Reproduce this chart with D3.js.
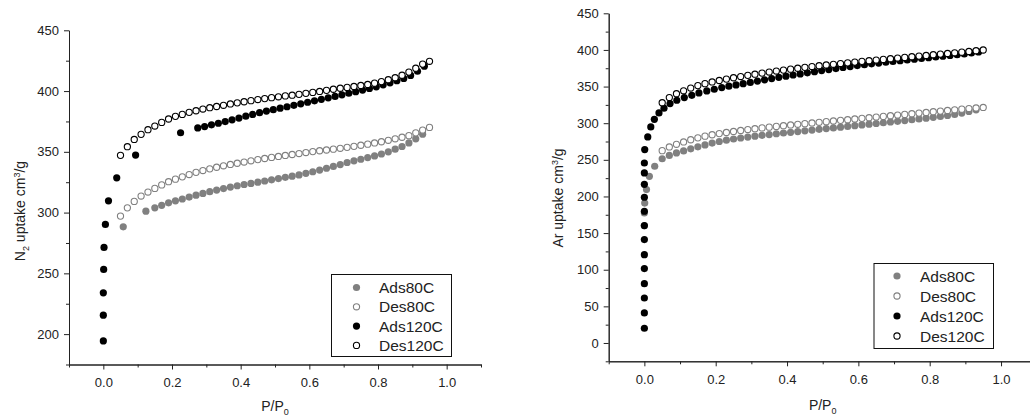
<!DOCTYPE html>
<html>
<head>
<meta charset="utf-8">
<script src="https://cdn.jsdelivr.net/npm/d3@7"></script>
<style>
  body { margin: 0; background: #fff; }
  svg { display: block; font-family: Arial, "Liberation Sans", sans-serif; }
  .tick text { font-size: 13px; fill: #222; }
  .tick line, .domain { stroke: #222; }
</style>
</head>
<body>
<div class="container"></div>
<script>
// series names, same order in both panels
const seriesNames = ["Ads80C", "Des80C", "Ads120C", "Des120C"];

// N2 isotherms (left panel), [P/P0, uptake]
const n2Ads80C = [[0.058,288.3],[0.124,301.2],[0.15,303.9],[0.17,306],[0.19,308],[0.21,309.7],[0.23,311.2],[0.25,312.8],[0.27,314.3],[0.29,315.8],[0.31,317.2],[0.33,318.5],[0.35,319.8],[0.37,321],[0.39,322.1],[0.41,323.1],[0.43,324],[0.45,325],[0.47,326],[0.49,327],[0.51,328],[0.53,329],[0.55,330],[0.57,331],[0.59,332.3],[0.61,333.6],[0.63,335],[0.65,336.5],[0.67,338],[0.69,339.5],[0.71,341.2],[0.73,342.6],[0.75,343.9],[0.77,345.3],[0.79,346.6],[0.81,348.2],[0.83,350],[0.85,352.2],[0.87,354.4],[0.89,357.3],[0.91,360.7],[0.93,364.5]];
const n2Des80C = [[0.05,297.1],[0.07,303.9],[0.09,309.2],[0.11,313.6],[0.13,316.9],[0.15,319.9],[0.17,322.8],[0.19,325.4],[0.21,327.5],[0.23,329.4],[0.25,331.3],[0.27,333.1],[0.29,334.6],[0.31,336],[0.33,337.3],[0.35,338.5],[0.37,339.6],[0.39,340.6],[0.41,341.6],[0.43,342.6],[0.45,343.6],[0.47,344.5],[0.49,345.4],[0.51,346.2],[0.53,347],[0.55,347.8],[0.57,348.6],[0.59,349.4],[0.61,350.2],[0.63,350.9],[0.65,351.5],[0.67,352.2],[0.69,352.9],[0.71,353.7],[0.73,354.5],[0.75,355.4],[0.77,356.3],[0.79,357.3],[0.81,358.3],[0.83,359.5],[0.85,360.7],[0.87,362],[0.89,363.3],[0.91,365.6],[0.93,367.9],[0.95,370.1]];
const n2Ads120C = [[0,194.4],[0,215.6],[0,234],[0.001,253.2],[0.002,271.3],[0.006,290.3],[0.015,309.7],[0.039,328.6],[0.094,347.3],[0.225,365.7],[0.275,369.7],[0.295,370.8],[0.315,372.2],[0.335,373.5],[0.355,374.9],[0.375,376.3],[0.395,377.8],[0.415,379.3],[0.435,380.8],[0.455,382.2],[0.475,383.5],[0.495,384.7],[0.515,385.9],[0.535,387.1],[0.555,388.3],[0.575,389.5],[0.595,390.8],[0.615,392],[0.635,393.2],[0.655,394.4],[0.675,395.6],[0.695,396.9],[0.715,398.2],[0.735,399.5],[0.755,400.8],[0.775,402.1],[0.795,403.5],[0.815,405.1],[0.835,406.8],[0.855,408.5],[0.875,410.4],[0.895,412.9],[0.915,416.3],[0.935,420.5]];
const n2Des120C = [[0.05,347.1],[0.07,354.2],[0.09,360.2],[0.11,364.4],[0.13,368.2],[0.15,371.2],[0.17,374.2],[0.19,377],[0.21,379.2],[0.23,380.8],[0.25,382.5],[0.27,383.8],[0.29,385.2],[0.31,386.3],[0.33,387.3],[0.35,388.3],[0.37,389.4],[0.39,390.3],[0.41,391.2],[0.43,392.1],[0.45,393],[0.47,393.8],[0.49,394.6],[0.51,395.3],[0.53,396],[0.55,396.6],[0.57,397.3],[0.59,398.1],[0.61,398.9],[0.63,399.7],[0.65,400.6],[0.67,401.5],[0.69,402.3],[0.71,403],[0.73,403.8],[0.75,404.6],[0.77,405.4],[0.79,406.5],[0.81,407.8],[0.83,409.3],[0.85,411],[0.87,413],[0.89,415.6],[0.91,418.8],[0.93,422.2],[0.95,424.5]];

// Ar isotherms (right panel), [P/P0, uptake]
const arAds80C = [[0,160],[0,177.5],[0.001,191],[0.006,209.4],[0.014,227.5],[0.029,241.2],[0.05,251.5],[0.07,256],[0.09,259.4],[0.11,262.2],[0.13,265],[0.15,267.8],[0.17,270.4],[0.19,272.8],[0.21,275],[0.23,276.8],[0.25,278.4],[0.27,279.8],[0.29,281.1],[0.31,282.3],[0.33,283.4],[0.35,284.5],[0.37,285.6],[0.39,286.6],[0.41,287.6],[0.43,288.6],[0.45,289.6],[0.47,290.6],[0.49,291.6],[0.51,292.6],[0.53,293.6],[0.55,294.6],[0.57,295.6],[0.59,296.6],[0.61,297.6],[0.63,298.6],[0.65,299.6],[0.67,300.6],[0.69,301.6],[0.71,302.6],[0.73,303.6],[0.75,304.7],[0.77,305.8],[0.79,306.9],[0.81,308],[0.83,309.2],[0.85,310.5],[0.87,312],[0.89,313.8],[0.91,316],[0.93,318.3]];
const arDes80C = [[0.05,262.5],[0.07,267.6],[0.09,271.2],[0.11,274.4],[0.13,277.4],[0.15,280],[0.17,282.3],[0.19,284.2],[0.21,285.8],[0.23,287.3],[0.25,288.7],[0.27,290],[0.29,291.3],[0.31,292.5],[0.33,293.6],[0.35,294.6],[0.37,295.6],[0.39,296.6],[0.41,297.6],[0.43,298.5],[0.45,299.4],[0.47,300.3],[0.49,301.2],[0.51,302.1],[0.53,303],[0.55,303.9],[0.57,304.8],[0.59,305.7],[0.61,306.6],[0.63,307.5],[0.65,308.4],[0.67,309.3],[0.69,310.2],[0.71,311.1],[0.73,312],[0.75,312.9],[0.77,313.8],[0.79,314.7],[0.81,315.6],[0.83,316.5],[0.85,317.4],[0.87,318.3],[0.89,319.2],[0.91,320],[0.93,320.8],[0.95,321.5]];
const arAds120C = [[0,20.1],[0,41],[0,61.4],[0,81],[0,101.5],[0,120.6],[0,141.1],[0,160.2],[0,179.8],[0,198.9],[0,216.6],[0,232.1],[0,245.7],[0.001,264],[0.0095,281.2],[0.018,294.9],[0.028,305.3],[0.041,314],[0.055,320.5],[0.072,326.8],[0.091,331.3],[0.112,335],[0.133,338.1],[0.153,341.3],[0.175,344],[0.196,346.3],[0.217,348.6],[0.237,350.5],[0.257,352.3],[0.277,354],[0.297,355.7],[0.317,357.5],[0.337,359.2],[0.357,360.9],[0.377,362.6],[0.397,364.2],[0.417,365.8],[0.437,367.3],[0.457,368.8],[0.477,370.3],[0.497,371.8],[0.517,373.2],[0.537,374.6],[0.557,376],[0.577,377.3],[0.597,378.6],[0.617,379.8],[0.637,381],[0.657,382.1],[0.677,383.2],[0.697,384.3],[0.717,385.4],[0.737,386.4],[0.757,387.4],[0.777,388.4],[0.797,389.4],[0.817,390.4],[0.837,391.4],[0.857,392.4],[0.877,393.4],[0.897,394.5],[0.917,395.8],[0.937,397.2]];
const arDes120C = [[0.05,328],[0.07,335],[0.09,340.2],[0.11,344.2],[0.13,348],[0.15,351.3],[0.17,354],[0.19,356.3],[0.21,358.3],[0.23,360.2],[0.25,362],[0.27,363.7],[0.29,365.3],[0.31,366.9],[0.33,368.4],[0.35,369.8],[0.37,371.2],[0.39,372.5],[0.41,373.8],[0.43,375],[0.45,376.2],[0.47,377.3],[0.49,378.4],[0.51,379.4],[0.53,380.4],[0.55,381.4],[0.57,382.4],[0.59,383.4],[0.61,384.4],[0.63,385.3],[0.65,386.2],[0.67,387.1],[0.69,388],[0.71,388.9],[0.73,389.8],[0.75,390.7],[0.77,391.6],[0.79,392.5],[0.81,393.4],[0.83,394.3],[0.85,395.2],[0.87,396.1],[0.89,397],[0.91,397.9],[0.93,398.9],[0.95,399.9]];

// tick values
const xMajor = [0, 0.2, 0.4, 0.6, 0.8, 1.0];
const xMinor = [-0.1, 0.1, 0.3, 0.5, 0.7, 0.9, 1.1];
const n2Major = [200, 250, 300, 350, 400, 450];
const n2Minor = [175, 225, 275, 325, 375, 425];
const arMajor = [0, 50, 100, 150, 200, 250, 300, 350, 400, 450];
const arMinor = [-25, 25, 75, 125, 175, 225, 275, 325, 375, 425];

// marker styles for each series
const styles = {
  Ads80C: { fill: "#808080", stroke: "none", r: 3.6 },
  Des80C: { fill: "#fff", stroke: "#808080", r: 3.1 },
  Ads120C: { fill: "#000", stroke: "none", r: 3.6 },
  Des120C: { fill: "#fff", stroke: "#000", r: 3.1 }
};

const W = 1030, H = 417;
const svg = d3.select(".container").append("svg")
  .attr("width", W).attr("height", H);

// draw one panel
function panel(opt) {
  const x = d3.scaleLinear().domain([-0.1, 1.1]).range(opt.xRange);
  const y = d3.scaleLinear().domain(opt.yDomain).range(opt.yRange);
  const g = svg.append("g");
  const y0 = opt.yRange[0], x0 = opt.xRange[0];

  // minor ticks first, then major with labels
  g.append("g").attr("transform", `translate(0,${y0})`)
    .call(d3.axisBottom(x).tickValues(xMinor).tickSize(3).tickSizeOuter(0).tickFormat(""));
  g.append("g").attr("transform", `translate(0,${y0})`)
    .call(d3.axisBottom(x).tickValues(xMajor).tickSize(5).tickSizeOuter(0).tickPadding(8).tickFormat(d3.format(".1f")));
  g.append("g").attr("transform", `translate(${x0},0)`)
    .call(d3.axisLeft(y).tickValues(opt.yMinor).tickSize(3).tickSizeOuter(0).tickFormat(""));
  g.append("g").attr("transform", `translate(${x0},0)`)
    .call(d3.axisLeft(y).tickValues(opt.yMajor).tickSize(5).tickSizeOuter(0).tickPadding(5).tickFormat(d3.format("d")));

  // data points
  opt.series.forEach((data, i) => {
    const s = styles[seriesNames[i]];
    g.append("g").selectAll("circle").data(data).join("circle")
      .attr("cx", d => x(d[0]))
      .attr("cy", d => y(d[1]))
      .attr("r", s.r)
      .attr("fill", s.fill)
      .attr("stroke", s.stroke)
      .attr("stroke-width", 1.1);
  });

  // x label P/P0
  const xl = g.append("text")
    .attr("x", (opt.xRange[0] + opt.xRange[1]) / 2)
    .attr("y", opt.xLabelY)
    .attr("text-anchor", "middle")
    .attr("font-size", 14).attr("fill", "#222");
  xl.append("tspan").text("P/P");
  xl.append("tspan").attr("font-size", 9).attr("dy", 4).text("0");

  // y label
  const yl = g.append("text")
    .attr("transform", `translate(${opt.yLabelX},${opt.yLabelY}) rotate(-90)`)
    .attr("text-anchor", "middle")
    .attr("font-size", 14).attr("fill", "#222");
  opt.yLabel.forEach(p => {
    yl.append("tspan").attr("font-size", p.size || 14).attr("dy", p.dy || 0).text(p.t);
  });

  // legend
  const lg = g.append("g");
  lg.append("rect")
    .attr("x", opt.legend.x).attr("y", opt.legend.y)
    .attr("width", opt.legend.w).attr("height", opt.legend.h)
    .attr("fill", "#fff").attr("stroke", "#111").attr("stroke-width", 1);
  seriesNames.forEach((name, i) => {
    const s = styles[name];
    const cy = opt.legend.y + opt.legend.first + i * opt.legend.step;
    lg.append("circle")
      .attr("cx", opt.legend.x + opt.legend.mx).attr("cy", cy)
      .attr("r", s.r).attr("fill", s.fill).attr("stroke", s.stroke).attr("stroke-width", 1.1);
    lg.append("text")
      .attr("x", opt.legend.x + opt.legend.tx).attr("y", cy + 5.5)
      .attr("font-size", 15.5).attr("fill", "#222")
      .text(name);
  });
}

panel({
  xRange: [69, 481],
  yDomain: [175, 450],
  yRange: [364.5, 30.3],
  yMajor: n2Major, yMinor: n2Minor,
  series: [n2Ads80C, n2Des80C, n2Ads120C, n2Des120C],
  xLabelY: 411,
  yLabelX: 25, yLabelY: 211,
  yLabel: [{ t: "N" }, { t: "2", size: 9, dy: 4 }, { t: " uptake cm", dy: -4 }, { t: "3", size: 9, dy: -5 }, { t: "/g", dy: 5 }],
  legend: { x: 331.5, y: 274.5, w: 120, h: 82, first: 13, step: 19.3, mx: 25, tx: 47.5 }
});

panel({
  xRange: [608.7, 1036.7],
  yDomain: [-25, 450],
  yRange: [361.3, 13.3],
  yMajor: arMajor, yMinor: arMinor,
  series: [arAds80C, arDes80C, arAds120C, arDes120C],
  xLabelY: 410,
  yLabelX: 563, yLabelY: 198,
  yLabel: [{ t: "Ar uptake cm" }, { t: "3", size: 9, dy: -5 }, { t: "/g", dy: 5 }],
  legend: { x: 874, y: 263.5, w: 119.5, h: 85, first: 12.5, step: 20, mx: 23, tx: 46 }
});
</script>
</body>
</html>
